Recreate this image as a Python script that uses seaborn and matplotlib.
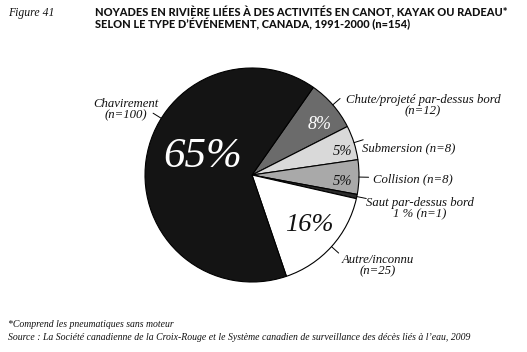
import numpy as np
import matplotlib
matplotlib.use("Agg")
import matplotlib.pyplot as plt
import seaborn as sns

# donnees (ordre horaire a partir du haut droit)
categories = ["Chute/projeté par-dessus bord", "Submersion", "Collision",
              "Saut par-dessus bord", "Autre/inconnu", "Chavirement"]
counts = [12, 8, 8, 1, 25, 100]
pct_text = ["8%", "5%", "5%", "", "16%", "65%"]
label_text = ["Chute/projeté par-dessus bord\n(n=12)", "Submersion (n=8)",
              "Collision (n=8)", "Saut par-dessus bord\n1 % (n=1)",
              "Autre/inconnu\n(n=25)", "Chavirement\n(n=100)"]
colors = ["#6b6b6b", "#d9d9d9", "#a9a9a9", "#2b2b2b", "#ffffff", "#141414"]

sns.set_theme(style="white")
plt.rcParams['font.family'] = ['Liberation Serif', 'DejaVu Serif']

W, H = 527, 352
fig = plt.figure(figsize=(W / 100, H / 100), dpi=100)
cx, cy, r = 252, 175, 107
ax = fig.add_axes([(cx - r) / W, (H - cy - r) / H, 2 * r / W, 2 * r / H])

start = 55
wedges, _ = ax.pie(counts, colors=colors, startangle=start, counterclock=False,
                   wedgeprops=dict(edgecolor="black", linewidth=0.8))
ax.set_xlim(-1, 1)
ax.set_ylim(-1, 1)
ax.axis("off")

# pourcentages dans les parts
pct_pos = [(0.63, 0.47), (0.85, 0.22), (0.85, -0.065), None, (0.54, -0.47), (-0.46, 0.17)]
pct_size = [13, 10.5, 10.5, 0, 19, 31]
pct_col = ["white", "#111111", "#111111", None, "#111111", "white"]
for t, p, s, c in zip(pct_text, pct_pos, pct_size, pct_col):
    if p is None:
        continue
    ax.text(p[0], p[1], t, ha="center", va="center", fontsize=s, color=c,
            style="italic")

# traits de rappel + etiquettes
mids = [(w.theta1 + w.theta2) / 2 for w in wedges]
mids[-1] = 148  # Chavirement
lab_pos = [(423, 100), (409, 148), (413, 179), (420, 203), (378, 260), (126, 104)]
for ang, txt, (px, py) in zip(mids, label_text, lab_pos):
    a = np.deg2rad(ang)
    ax.plot([np.cos(a), 1.09 * np.cos(a)], [np.sin(a), 1.09 * np.sin(a)],
            color="black", lw=0.7, clip_on=False)
    fig.text(px / W, 1 - (py - 6) / H, txt, ha="center", va="top", fontsize=9.2,
             style="italic", linespacing=0.95, color="#111111")

# titre
fig.text(8 / W, 1 - 7 / H, "Figure 41", ha="left", va="top", fontsize=8.5,
         style="italic", color="#111111")
fig.text(95 / W, 1 - 6 / H,
         "NOYADES EN RIVIÈRE LIÉES À DES ACTIVITÉS EN CANOT, KAYAK OU RADEAU*\n"
         "SELON LE TYPE D’ÉVÉNEMENT, CANADA, 1991-2000 (n=154)",
         ha="left", va="top", fontsize=7.9, fontweight="black", family="Lato",
         linespacing=1.0, color="#111111")

# notes
fig.text(8 / W, 1 - 320 / H, "*Comprend les pneumatiques sans moteur",
         ha="left", va="top", fontsize=7.0, style="italic", color="#111111")
fig.text(8 / W, 1 - 333 / H,
         "Source : La Société canadienne de la Croix-Rouge et le Système canadien "
         "de surveillance des décès liés à l’eau, 2009",
         ha="left", va="top", fontsize=7.0, style="italic", color="#111111")

fig.savefig("out.png", dpi=100)
